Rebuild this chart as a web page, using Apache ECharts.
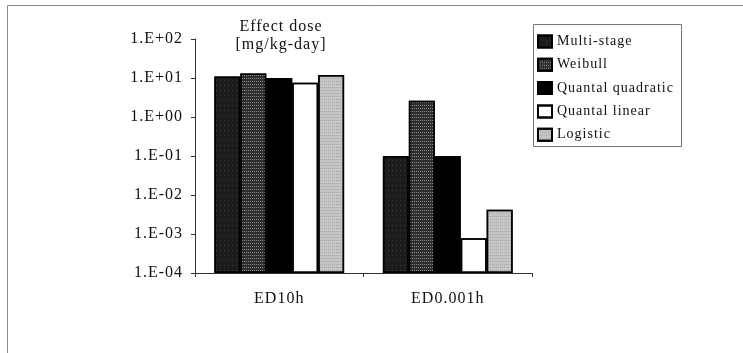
<!DOCTYPE html>
<html>
<head>
<meta charset="utf-8">
<script src="https://cdn.jsdelivr.net/npm/echarts@6/dist/echarts.min.js"></script>
<style>
  html, body { margin: 0; padding: 0; background: #fff; }
  #chart { width: 743px; height: 353px; }
</style>
</head>
<body>
<div id="chart"></div>
<script>
// Effect doses per model, mg/kg-day (log scale)
const categories = ['ED10h', 'ED0.001h'];
const multiStage = [11, 0.1];
const weibull = [13, 2.6];
const quantalQuadratic = [10, 0.1];
const quantalLinear = [7.5, 0.00078];
const logistic = [12, 0.0042];

const serif = '"Liberation Serif", "Times New Roman", serif';

// Slightly looser tracking for every canvas text (applies to drawing and measuring alike)
(function () {
  const proto = CanvasRenderingContext2D.prototype;
  const desc = Object.getOwnPropertyDescriptor(proto, 'font');
  if (desc && 'letterSpacing' in proto) {
    Object.defineProperty(proto, 'font', {
      configurable: true,
      get() { return desc.get.call(this); },
      set(v) { desc.set.call(this, v); this.letterSpacing = '1px'; }
    });
  }
})();

function sciLabel(v) {
  const e = Math.round(Math.log10(v));
  return '1.E' + (e >= 0 ? '+' : '-') + String(Math.abs(e)).padStart(2, '0');
}

function speckle(color, size, gapX, gapY) {
  return {
    symbol: 'rect',
    symbolSize: size,
    color: color,
    dashArrayX: [1, gapX],
    dashArrayY: [1, gapY],
    rotation: 0
  };
}

const plain = { symbol: 'none' };

const seriesDefs = [
  { name: 'Multi-stage', data: multiStage, color: '#1c1c1c',
    decal: speckle('rgba(255,255,255,0.45)', 0.6, 3, 4) },
  { name: 'Weibull', data: weibull, color: '#2e2e2e',
    decal: speckle('rgba(255,255,255,0.55)', 0.8, 1, 2) },
  { name: 'Quantal quadratic', data: quantalQuadratic, color: '#000000', decal: plain },
  { name: 'Quantal linear', data: quantalLinear, color: '#ffffff', decal: plain },
  { name: 'Logistic', data: logistic, color: '#c4c4c4',
    decal: speckle('rgba(60,60,60,0.55)', 0.7, 1, 2) }
];

const chart = echarts.init(document.getElementById('chart'), null, { renderer: 'canvas' });

chart.setOption({
  animation: false,
  backgroundColor: '#ffffff',
  aria: { enabled: true, decal: { show: true } },
  textStyle: { fontFamily: serif, color: '#111' },
  title: {
    text: 'Effect dose\n[mg/kg-day]',
    left: 276,
    top: 13,
    textAlign: 'center',
    textStyle: { fontFamily: serif, fontSize: 16, fontWeight: 'normal', color: '#111', lineHeight: 18 }
  },
  graphic: [
    { type: 'rect', shape: { x: 7.5, y: 5.5, width: 800, height: 400 },
      style: { fill: 'none', stroke: '#888', lineWidth: 1 }, silent: true },
    { type: 'rect', shape: { x: 533.5, y: 24.5, width: 148, height: 122 },
      style: { fill: 'none', stroke: '#777', lineWidth: 1 }, silent: true }
  ],
  legend: {
    orient: 'vertical',
    left: 537,
    top: 34,
    itemWidth: 14,
    itemHeight: 12,
    itemGap: 8.3,
    padding: 0,
    icon: 'rect',
    textStyle: { fontFamily: serif, fontSize: 14, color: '#111' },
    data: seriesDefs.map(s => s.name)
  },
  grid: { left: 195, right: 211, top: 39, bottom: 80, containLabel: false },
  xAxis: {
    type: 'category',
    data: categories,
    axisLine: { lineStyle: { color: '#333', width: 1 } },
    axisTick: { show: true, length: 4, lineStyle: { color: '#333' } },
    axisLabel: { fontFamily: serif, fontSize: 16, color: '#111', margin: 17 }
  },
  yAxis: {
    type: 'log',
    logBase: 10,
    min: 0.0001,
    max: 100,
    interval: 1,
    startValue: 0.0001,
    axisLine: { show: true, lineStyle: { color: '#333', width: 1 } },
    axisTick: { show: true, length: 4, lineStyle: { color: '#333' } },
    splitLine: { show: false },
    axisLabel: {
      fontFamily: serif, fontSize: 16, color: '#111', margin: 12,
      formatter: v => sciLabel(v)
    }
  },
  series: seriesDefs.map(s => ({
    name: s.name,
    type: 'bar',
    data: s.data,
    barGap: '0%',
    barCategoryGap: '23%',
    itemStyle: { color: s.color, borderColor: '#000', borderWidth: 1.5, decal: s.decal }
  }))
});
</script>
</body>
</html>
